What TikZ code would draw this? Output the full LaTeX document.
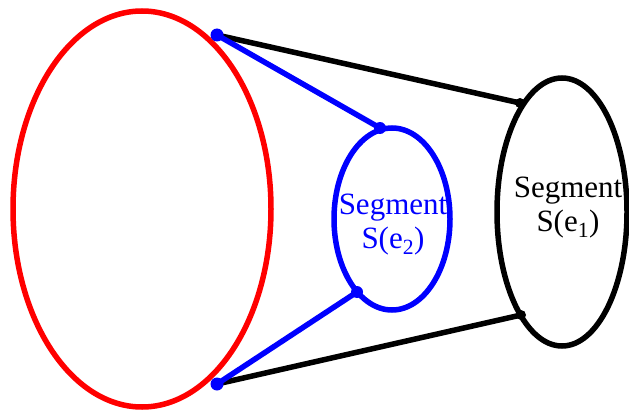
\documentclass[tikz,border=0pt]{standalone}
\usepackage{fontspec}
\setmainfont{Liberation Serif}
\newfontfamily\segfont{Liberation Serif}
\usetikzlibrary{shapes.geometric}
\definecolor{pblue}{RGB}{0,0,255}
\definecolor{pred}{RGB}{255,0,0}
\tikzset{
  ring/.style={ellipse, draw, line width=5.5pt, inner sep=0pt, fill=none},
  seglabel/.style={align=center, font=\segfont\fontsize{31}{34}\selectfont, inner sep=0pt},
  link/.style={line width=5.5pt},
  bdot/.style={circle, fill=pblue, inner sep=0pt, minimum size=13pt},
  kdot/.style={circle, fill=black, inner sep=0pt, minimum size=10pt}
}
\begin{document}
\begin{tikzpicture}[x=1pt,y=-1pt]
\useasboundingbox (0,0) rectangle (629,412);
\node[ring, draw=pred, minimum width=258pt, minimum height=396pt] (R) at (142,209) {};
\node[ring, draw=pblue, minimum width=116pt, minimum height=182pt] (B) at (392,219) {};
\node[ring, draw=black, minimum width=130pt, minimum height=268pt] (K) at (562,212) {};
\node[seglabel, text=pblue] (tb) at (393,225) {Segment\\S(e\textsubscript{2})};
\node[seglabel, text=black] (tk) at (568,208) {Segment\\S(e\textsubscript{1})};
\coordinate (rt) at (217,35);
\coordinate (rb) at (217,384);
\coordinate (bt) at (380,128);
\coordinate (bb) at (357,292);
\coordinate (kt) at (520,103);
\coordinate (kb) at (521,315);
\draw[link, black] (rt) -- (kt);
\draw[link, black] (rb) -- (kb);
\draw[link, pblue] (rt) -- (bt);
\draw[link, pblue] (rb) -- (bb);
\node[kdot] (dkt) at (kt) {};
\node[kdot] (dkb) at (kb) {};
\node[bdot] (drt) at (rt) {};
\node[bdot] (drb) at (rb) {};
\node[bdot, minimum size=12pt] (dbt) at (bt) {};
\node[bdot, minimum size=12pt] (dbb) at (bb) {};
\end{tikzpicture}
\end{document}
